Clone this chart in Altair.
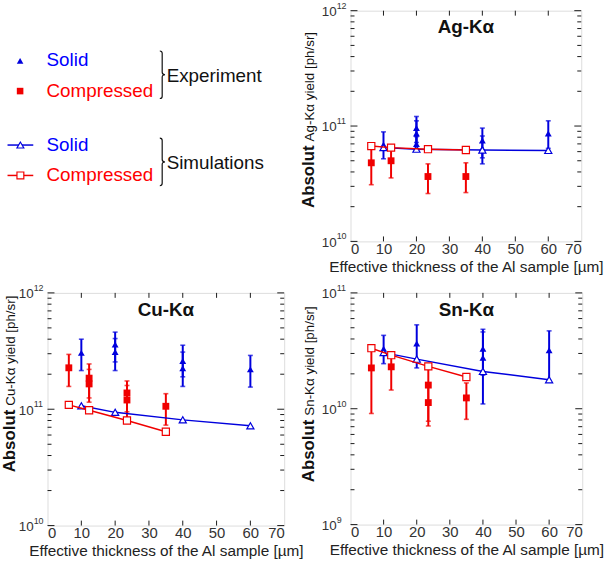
import altair as alt
import pandas as pd

FONT = "Liberation Sans"
BLUE = "#0000dd"
RED = "#f00000"
FRAME = "#1a1a1a"
X_TITLE = "Effective thickness of the Al sample [µm]"

# shared x-axis layout
X_LABELS = [0, 10, 20, 30, 40, 50, 60, 70]
X_TICKS = [10, 20, 30, 40, 50, 60]
MINOR_MULT = [2, 3, 4, 5, 6, 7, 8, 9]

# ---------------- Ag-Kα ----------------
ag_decades = [10, 11, 12]
ag_es_x = [10, 20, 20, 20, 40, 40, 60]
ag_es_y = [6.9e10, 9.6e10, 8.6e10, 7.0e10, 7.5e10, 6.4e10, 8.6e10]
ag_es_lo = [5.2e10, 7.2e10, 6.4e10, 6.2e10, 5.3e10, 4.7e10, 6.4e10]
ag_es_hi = [8.9e10, 1.21e11, 1.11e11, 8.1e10, 9.6e10, 8.2e10, 1.11e11]
ag_ec_x = [6.3, 12.3, 23.5, 35]
ag_ec_y = [4.8e10, 5.0e10, 3.65e10, 3.65e10]
ag_ec_lo = [3.1e10, 3.55e10, 2.6e10, 2.65e10]
ag_ec_hi = [6.5e10, 6.6e10, 4.7e10, 4.8e10]
ag_ss_x = [10, 20, 40, 60]
ag_ss_y = [6.5e10, 6.3e10, 6.2e10, 6.15e10]
ag_sc_x = [6.3, 12.3, 23.5, 35]
ag_sc_y = [6.7e10, 6.5e10, 6.3e10, 6.2e10]

# ---------------- Cu-Kα ----------------
cu_decades = [10, 11, 12]
cu_es_x = [10, 20, 20, 40, 40, 60]
cu_es_y = [3.05e11, 3.6e11, 3.1e11, 2.6e11, 2.25e11, 2.2e11]
cu_es_lo = [2.15e11, 2.55e11, 2.15e11, 1.9e11, 1.57e11, 1.55e11]
cu_es_hi = [4.0e11, 4.6e11, 4.05e11, 3.55e11, 3.1e11, 2.9e11]
cu_ec_x = [6.3, 12.3, 12.3, 23.5, 23.5, 35]
cu_ec_y = [2.27e11, 1.85e11, 1.65e11, 1.38e11, 1.2e11, 1.06e11]
cu_ec_lo = [1.57e11, 1.25e11, 1.15e11, 9.5e10, 8.0e10, 7.3e10]
cu_ec_hi = [2.96e11, 2.45e11, 2.2e11, 1.75e11, 1.6e11, 1.36e11]
cu_ss_x = [10, 20, 40, 60]
cu_ss_y = [1.07e11, 9.4e10, 8.1e10, 7.2e10]
cu_sc_x = [6.3, 12.3, 23.5, 35]
cu_sc_y = [1.09e11, 9.8e10, 8.0e10, 6.4e10]

# ---------------- Sn-Kα ----------------
sn_decades = [9, 10, 11]
sn_es_x = [10, 20, 40, 40, 60]
sn_es_y = [3.3e10, 3.65e10, 3.3e10, 2.75e10, 3.2e10]
sn_es_lo = [2.45e10, 2.25e10, 1.95e10, 1.1e10, 1.75e10]
sn_es_hi = [4.3e10, 5.3e10, 4.6e10, 4.85e10, 4.7e10]
sn_ec_x = [6.3, 12.3, 23.5, 23.5, 35]
sn_ec_y = [2.25e10, 2.3e10, 1.6e10, 1.13e10, 1.24e10]
sn_ec_lo = [9.1e9, 1.45e10, 7.8e9, 7.1e9, 8.1e9]
sn_ec_hi = [3.3e10, 3.1e10, 2.25e10, 1.6e10, 1.67e10]
sn_ss_x = [10, 20, 40, 60]
sn_ss_y = [3.05e10, 2.68e10, 2.1e10, 1.78e10]
sn_sc_x = [6.3, 12.3, 23.5, 35]
sn_sc_y = [3.33e10, 2.9e10, 2.32e10, 1.88e10]

ONE = pd.DataFrame({"k": [0]})


def panel(name, decades, es, ec, ss, sc, w, h, join_y, title_x):
    xs = alt.Scale(domain=[0, 70], nice=False, zero=False)
    ys = alt.Scale(type="log", domain=[10.0 ** decades[0], 10.0 ** decades[-1]], nice=False)
    xaxis = alt.Axis(
        values=X_LABELS, ticks=False, tickSize=0, domain=False, grid=False,
        labelFont=FONT, labelFontSize=15, labelColor="#333333", labelPadding=0,
        title=X_TITLE, titleFont=FONT, titleFontSize=15.5, titleFontWeight="normal",
        titleColor="#222222", titleY=25, titleBaseline="middle",
    )

    def X(f):
        return alt.X(f"{f}:Q", scale=xs, axis=xaxis)

    def Y(f):
        return alt.Y(f"{f}:Q", scale=ys, axis=None)

    layers = []

    # experimental points with error bars
    for (xv, yv, lo, hi), color, shape in ((es, BLUE, "triangle-up"), (ec, RED, "square")):
        df = pd.DataFrame({"x": xv, "y": yv, "lo": lo, "hi": hi})
        base = alt.Chart(df)
        layers.append(base.mark_rule(color=color, strokeWidth=2).encode(x=X("x"), y=Y("lo"), y2="hi:Q"))
        layers.append(base.mark_tick(color=color, orient="horizontal", size=5, thickness=1.6).encode(x=X("x"), y=Y("lo")))
        layers.append(base.mark_tick(color=color, orient="horizontal", size=5, thickness=1.6).encode(x=X("x"), y=Y("hi")))
        layers.append(base.mark_point(shape=shape, filled=True, color=color, size=48, opacity=1).encode(x=X("x"), y=Y("y")))

    # simulation curves
    for (xv, yv), color, shape in ((ss, BLUE, "triangle-up"), (sc, RED, "square")):
        df = pd.DataFrame({"x": xv, "y": yv})
        base = alt.Chart(df)
        layers.append(base.mark_line(color=color, strokeWidth=1.5).encode(x=X("x"), y=Y("y")))
        layers.append(base.mark_point(shape=shape, filled=True, fill="white", stroke=color,
                                      strokeWidth=1.2, size=52, opacity=1).encode(x=X("x"), y=Y("y")))

    # inward ticks on all four sides
    major = pd.DataFrame({"v": [10.0 ** d for d in decades]})
    minor = pd.DataFrame({"v": [m * 10.0 ** d for d in decades[:-1] for m in MINOR_MULT]})
    xt = pd.DataFrame({"t": X_TICKS})
    tick_style = dict(color=FRAME, strokeWidth=1)
    layers.append(alt.Chart(major).mark_rule(**tick_style).encode(y=Y("v"), x=alt.value(0), x2=alt.value(7)))
    layers.append(alt.Chart(major).mark_rule(**tick_style).encode(y=Y("v"), x=alt.value(w - 7), x2=alt.value(w)))
    layers.append(alt.Chart(minor).mark_rule(**tick_style).encode(y=Y("v"), x=alt.value(0), x2=alt.value(4)))
    layers.append(alt.Chart(minor).mark_rule(**tick_style).encode(y=Y("v"), x=alt.value(w - 4), x2=alt.value(w)))
    layers.append(alt.Chart(xt).mark_rule(**tick_style).encode(x=X("t"), y=alt.value(h - 5), y2=alt.value(h)))
    layers.append(alt.Chart(xt).mark_rule(**tick_style).encode(x=X("t"), y=alt.value(0), y2=alt.value(5)))

    # decade labels 10^n
    lab = pd.DataFrame({"v": [10.0 ** d for d in decades], "e": [str(d) for d in decades]})
    layers.append(alt.Chart(lab).mark_text(text="10", font=FONT, fontSize=13.5, color="#333333",
                                           align="right", baseline="middle", dy=1.5)
                  .encode(y=Y("v"), x=alt.value(-14)))
    layers.append(alt.Chart(lab).mark_text(font=FONT, fontSize=9, color="#333333",
                                           align="left", baseline="middle", dy=-5)
                  .encode(y=Y("v"), text="e:N", x=alt.value(-14)))

    # y title: bold "Absolut" followed by the line name
    layers.append(alt.Chart(ONE).mark_text(text="Absolut", font=FONT, fontSize=17, fontWeight="bold",
                                           color="#111111", angle=270, align="right", baseline="alphabetic")
                  .encode(x=alt.value(title_x), y=alt.value(join_y)))
    layers.append(alt.Chart(ONE).mark_text(text=f"{name} yield [ph/sr]", font=FONT, fontSize=13.5,
                                           color="#111111", angle=270, align="left", baseline="alphabetic")
                  .encode(x=alt.value(title_x), y=alt.value(join_y - 4)))

    # panel heading
    layers.append(alt.Chart(ONE).mark_text(text=name, font=FONT, fontSize=19, fontWeight="bold",
                                           color="#111111", align="center", baseline="middle")
                  .encode(x=alt.value(w / 2), y=alt.value(17)))

    return alt.layer(*layers).properties(width=w, height=h)


BRACE = "M-0.1,-1Q0,-1 0,-0.9L0,-0.1Q0,0 0.12,0Q0,0 0,0.1L0,0.9Q0,1 -0.1,1"


def legend_panel(w, h):
    L = []

    def txt(s, color, x, y):
        L.append(alt.Chart(ONE).mark_text(text=s, color=color, font=FONT, fontSize=19,
                                          align="left", baseline="middle")
                 .encode(x=alt.value(x), y=alt.value(y)))

    def sym(shape, x, y, color, hollow):
        if hollow:
            m = alt.Chart(ONE).mark_point(shape=shape, filled=True, fill="white", stroke=color,
                                          strokeWidth=1.2, size=48, opacity=1)
        else:
            m = alt.Chart(ONE).mark_point(shape=shape, filled=True, color=color, size=44, opacity=1)
        L.append(m.encode(x=alt.value(x), y=alt.value(y)))

    def seg(color, y):
        L.append(alt.Chart(ONE).mark_rule(color=color, strokeWidth=1.5)
                 .encode(x=alt.value(-40.4), x2=alt.value(-14.4), y=alt.value(y)))

    def brace(x, y):
        L.append(alt.Chart(ONE).mark_point(shape=BRACE, filled=False, stroke="#111111",
                                           strokeWidth=1.2, size=48 * 48, opacity=1)
                 .encode(x=alt.value(x), y=alt.value(y)))

    # experiment entries
    sym("triangle-up", -27.7, 50.7, BLUE, False)
    txt("Solid", "#0000ff", -1, 50.2)
    sym("square", -27.7, 81.2, RED, False)
    txt("Compressed", "#ff0000", -1, 80.7)
    brace(115.8, 64.7)
    txt("Experiment", "#111111", 120.3, 65.7)

    # simulation entries
    seg(BLUE, 135.7)
    sym("triangle-up", -27.4, 135.7, BLUE, True)
    txt("Solid", "#0000ff", -1, 135.7)
    seg(RED, 166.4)
    sym("square", -27.4, 166.4, RED, True)
    txt("Compressed", "#ff0000", -1, 166.4)
    brace(115.8, 152.8)
    txt("Simulations", "#111111", 120.3, 154)

    return alt.layer(*L).properties(width=w, height=h, view=alt.ViewBackground(strokeOpacity=0))


ag = panel("Ag-Kα", ag_decades,
           (ag_es_x, ag_es_y, ag_es_lo, ag_es_hi), (ag_ec_x, ag_ec_y, ag_ec_lo, ag_ec_hi),
           (ag_ss_x, ag_ss_y), (ag_sc_x, ag_sc_y), 233, 233, 136, -37)
cu = panel("Cu-Kα", cu_decades,
           (cu_es_x, cu_es_y, cu_es_lo, cu_es_hi), (cu_ec_x, cu_ec_y, cu_ec_lo, cu_ec_hi),
           (cu_ss_x, cu_ss_y), (cu_sc_x, cu_sc_y), 239, 235, 118, -32.5)
sn = panel("Sn-Kα", sn_decades,
           (sn_es_x, sn_es_y, sn_es_lo, sn_es_hi), (sn_ec_x, sn_ec_y, sn_ec_lo, sn_ec_hi),
           (sn_ss_x, sn_ss_y), (sn_sc_x, sn_sc_y), 234, 234, 128, -37)
legend = legend_panel(239, 233)

chart = (
    alt.concat(legend, ag, cu, sn, columns=2, bounds="flush", align="each",
               spacing=alt.RowColnumber(row=52, column=67))
    .properties(padding={"left": 1, "top": -2, "right": 0, "bottom": 0}, background="white")
    .configure_view(stroke=FRAME, strokeWidth=1.2)
    .configure(font=FONT)
)

chart.save("out.html", embed_options={"renderer": "svg", "actions": False})
